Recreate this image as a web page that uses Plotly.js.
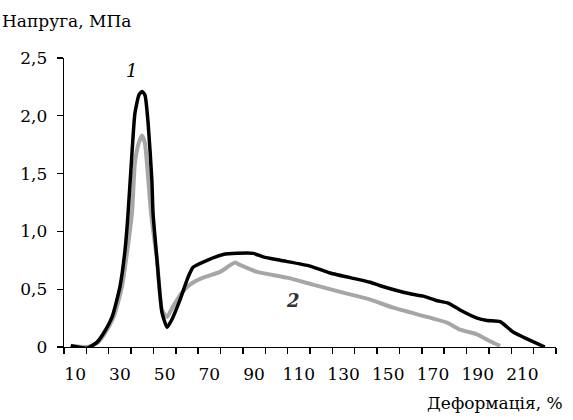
<!DOCTYPE html>
<html>
<head>
<meta charset="utf-8">
<script src="https://cdn.plot.ly/plotly-3.0.1.min.js"></script>
<style>html,body{margin:0;padding:0;background:#fff}</style>
</head>
<body>
<div id="chart" style="width:573px;height:420px"></div>
<script>
// Curve 1 (black)
const strain1 = [8, 15.3, 19.7, 22.4, 26.5, 30.0, 32.3, 33.6, 35.4, 36.7, 38.5, 39.9, 41.2, 42.6, 44.3, 44.8, 46.6, 48.8, 51.1, 53.3, 56.9, 60.4, 62.7, 69.0, 76.2, 82.4, 89.6, 94.1, 101.7, 115.1, 124.0, 141.9, 146.4, 159.8, 165.6, 171.9, 176.8, 182.1, 189.7, 194.2, 200.0, 205.8, 220];
const stress1 = [0.01, -0.01, 0.04, 0.11, 0.26, 0.52, 0.84, 1.14, 1.68, 2.02, 2.18, 2.21, 2.18, 1.94, 1.44, 1.16, 0.75, 0.30, 0.17, 0.24, 0.41, 0.60, 0.69, 0.75, 0.80, 0.81, 0.81, 0.78, 0.75, 0.70, 0.64, 0.56, 0.53, 0.46, 0.44, 0.40, 0.38, 0.32, 0.25, 0.23, 0.22, 0.13, 0.0];
// Curve 2 (grey)
const strain2 = [8, 15.7, 20.2, 23.3, 27.4, 30.9, 33.2, 35.4, 36.7, 38.5, 39.9, 41.2, 42.6, 43.9, 46.6, 48.8, 51.1, 53.7, 57.7, 61.3, 67.2, 74.8, 81.5, 83.7, 91.3, 104.7, 116.3, 129.8, 141.9, 152.2, 167.3, 176.3, 182.1, 189.7, 195.5, 200];
const stress2 = [0.01, 0.0, 0.04, 0.12, 0.27, 0.52, 0.82, 1.16, 1.59, 1.77, 1.83, 1.76, 1.47, 1.16, 0.75, 0.32, 0.26, 0.35, 0.47, 0.54, 0.60, 0.65, 0.73, 0.71, 0.65, 0.60, 0.54, 0.47, 0.41, 0.34, 0.26, 0.21, 0.15, 0.11, 0.05, 0.01];

const xTickVals = [10, 30, 50, 70, 90, 110, 130, 150, 170, 190, 210];
const xTickText = ['10', '30', '50', '70', '90', '110', '130', '150', '170', '190', '210'];
const xTickMarks = [5, 15, 25, 35, 45, 55, 65, 75, 85, 95, 105, 115, 125, 135, 145, 155, 165, 175, 185, 195, 205, 215, 225];
const yTickVals = [0, 0.5, 1.0, 1.5, 2.0, 2.5];
const yTickText = ['0', '0,5', '1,0', '1,5', '2,0', '2,5'];

const FONT = "'DejaVu Serif', serif";
const FS = 17;

const traces = [
  {x: strain2, y: stress2, type: 'scatter', mode: 'lines', line: {color: '#a6a6a6', width: 4, shape: 'spline', smoothing: 0.5}, hoverinfo: 'skip', xaxis: 'x'},
  {x: strain1, y: stress1, type: 'scatter', mode: 'lines', line: {color: '#000', width: 3.5, shape: 'spline', smoothing: 0.5}, hoverinfo: 'skip', xaxis: 'x'},
  {x: strain1, y: stress1, type: 'scatter', mode: 'lines', line: {width: 0}, opacity: 0, hoverinfo: 'skip', xaxis: 'x2'}
];

const layout = {
  width: 573, height: 420,
  margin: {l: 64, r: 17, t: 57.5, b: 72.5},
  paper_bgcolor: '#fff', plot_bgcolor: '#fff',
  showlegend: false,
  font: {family: FONT, size: FS, color: '#000'},
  xaxis: {
    range: [5, 225], tickmode: 'array', tickvals: xTickMarks, ticktext: xTickMarks.map(() => ''),
    ticks: 'outside', ticklen: 6, tickwidth: 1.5, tickcolor: '#000',
    showline: true, linecolor: '#000', linewidth: 1.3, showgrid: false, zeroline: false
  },
  xaxis2: {
    overlaying: 'x', anchor: 'y', side: 'bottom', range: [5, 225], tickmode: 'array', tickvals: xTickVals, ticktext: xTickText,
    ticks: '', showline: false, showgrid: false, zeroline: false,
    ticklabelstandoff: 15, tickfont: {family: FONT, size: FS, color: '#000'}
  },
  yaxis: {
    range: [0, 2.5], tickmode: 'array', tickvals: yTickVals, ticktext: yTickText,
    ticks: 'outside', ticklen: 6, tickwidth: 1.3, tickcolor: '#000',
    showline: true, linecolor: '#000', linewidth: 1.3, showgrid: false, zeroline: false,
    ticklabelstandoff: 6, tickfont: {family: FONT, size: FS, color: '#000'}
  },
  annotations: [
    {text: 'Напруга, МПа', xref: 'paper', yref: 'paper', x: -0.13, y: 1.128, xanchor: 'left', yanchor: 'middle', showarrow: false, font: {family: FONT, size: FS, color: '#000'}},
    {text: 'Деформація, %', xref: 'paper', yref: 'paper', x: 1.018, y: -0.195, xanchor: 'right', yanchor: 'middle', showarrow: false, font: {family: FONT, size: FS, color: '#000'}},
    {text: '<i>1</i>', xref: 'x', yref: 'y', x: 35, y: 2.39, showarrow: false, font: {family: FONT, size: 18, color: '#000'}},
    {text: '<b><i>2</i></b>', xref: 'x', yref: 'y', x: 107.5, y: 0.40, showarrow: false, font: {family: FONT, size: 18, color: '#333'}}
  ]
};

Plotly.newPlot('chart', traces, layout, {staticPlot: true, displayModeBar: false});
</script>
</body>
</html>
